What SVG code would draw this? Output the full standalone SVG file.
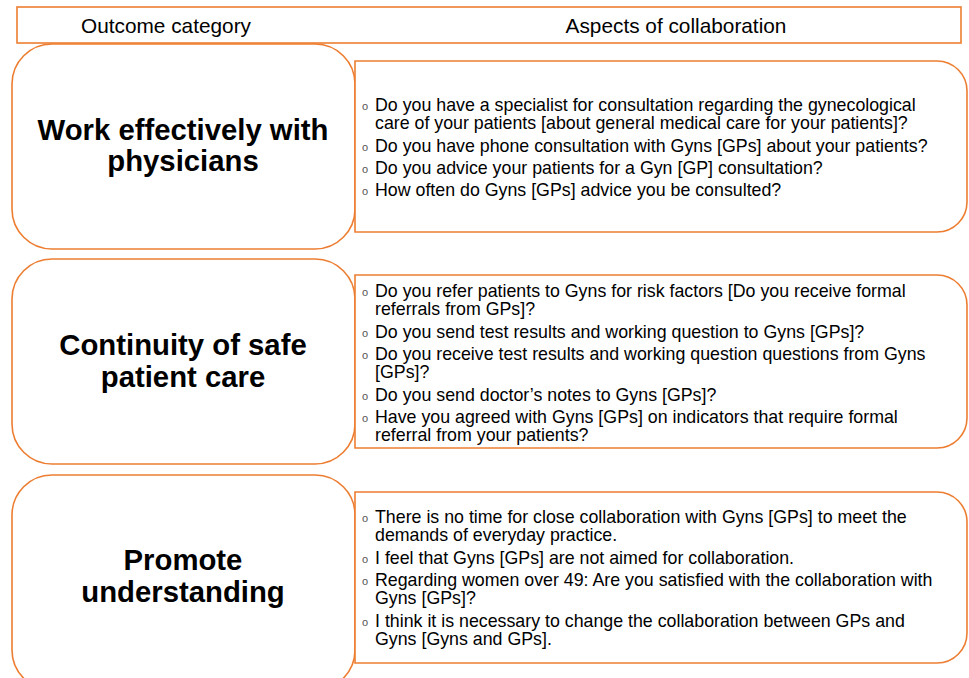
<svg xmlns="http://www.w3.org/2000/svg" width="969" height="678" viewBox="0 0 969 678">
<style>
.box{fill:#fff;stroke:#ED7D31;stroke-width:1.6}
.hdr{font-family:"Liberation Sans",Arial,sans-serif;font-size:20.8px;fill:#000;text-anchor:middle}
.ttl{font-family:"Liberation Sans",Arial,sans-serif;font-size:29.3px;font-weight:bold;fill:#000;text-anchor:middle}
.it{font-family:"Liberation Sans",Arial,sans-serif;font-size:17.8px;fill:#000}
.bl{font-family:"Liberation Sans",Arial,sans-serif;font-size:11px;fill:#555}
</style>
<rect width="969" height="678" fill="#fff"/>
<g id="header">
<rect class="box" x="17" y="7" width="944" height="36"/>
<text class="hdr" x="166" y="33">Outcome category</text>
<text class="hdr" x="676" y="33">Aspects of collaboration</text>
</g>
<g id="cat1">
<rect class="box" x="12" y="44" width="343" height="205" rx="40" ry="40"/>
<text class="ttl" x="183" y="140">Work effectively with</text>
<text class="ttl" x="183" y="171">physicians</text>
</g>
<g id="asp1">
<path class="box" d="M355,61 H937 A30,30 0 0 1 967,91 V202 A30,30 0 0 1 937,232 H355 Z"/>
<text class="bl" x="362" y="110">o</text><text class="it" x="375" y="110.5">Do you have a specialist for consultation regarding the gynecological</text>
<text class="it" x="375" y="129">care of your patients [about general medical care for your patients]?</text>
<text class="bl" x="362" y="151">o</text><text class="it" x="375" y="151.5">Do you have phone consultation with Gyns [GPs] about your patients?</text>
<text class="bl" x="362" y="173">o</text><text class="it" x="375" y="173.5">Do you advice your patients for a Gyn [GP] consultation?</text>
<text class="bl" x="362" y="195">o</text><text class="it" x="375" y="195.5">How often do Gyns [GPs] advice you be consulted?</text>
</g>
<g id="cat2">
<rect class="box" x="12" y="259" width="343" height="205" rx="40" ry="40"/>
<text class="ttl" x="183" y="355">Continuity of safe</text>
<text class="ttl" x="183" y="387">patient care</text>
</g>
<g id="asp2">
<path class="box" d="M355,275 H937 A30,30 0 0 1 967,305 V418 A30,30 0 0 1 937,448 H355 Z"/>
<text class="bl" x="362" y="296">o</text><text class="it" x="375" y="296.5">Do you refer patients to Gyns for risk factors [Do you receive formal</text>
<text class="it" x="375" y="315">referrals from GPs]?</text>
<text class="bl" x="362" y="337">o</text><text class="it" x="375" y="337.5">Do you send test results and working question to Gyns [GPs]?</text>
<text class="bl" x="362" y="359">o</text><text class="it" x="375" y="359.5">Do you receive test results and working question questions from Gyns</text>
<text class="it" x="375" y="378">[GPs]?</text>
<text class="bl" x="362" y="400">o</text><text class="it" x="375" y="400.5">Do you send doctor’s notes to Gyns [GPs]?</text>
<text class="bl" x="362" y="422">o</text><text class="it" x="375" y="422.5">Have you agreed with Gyns [GPs] on indicators that require formal</text>
<text class="it" x="375" y="441">referral from your patients?</text>
</g>
<g id="cat3">
<rect class="box" x="12" y="475" width="343" height="215" rx="40" ry="40"/>
<text class="ttl" x="183" y="570">Promote</text>
<text class="ttl" x="183" y="602">understanding</text>
</g>
<g id="asp3">
<path class="box" d="M355,492 H937 A30,30 0 0 1 967,522 V633 A30,30 0 0 1 937,663 H355 Z"/>
<text class="bl" x="362" y="522">o</text><text class="it" x="375" y="522.5">There is no time for close collaboration with Gyns [GPs] to meet the</text>
<text class="it" x="375" y="541">demands of everyday practice.</text>
<text class="bl" x="362" y="563">o</text><text class="it" x="375" y="563.5">I feel that Gyns [GPs] are not aimed for collaboration.</text>
<text class="bl" x="362" y="585">o</text><text class="it" x="375" y="585.5">Regarding women over 49: Are you satisfied with the collaboration with</text>
<text class="it" x="375" y="604">Gyns [GPs]?</text>
<text class="bl" x="362" y="626">o</text><text class="it" x="375" y="626.5">I think it is necessary to change the collaboration between GPs and</text>
<text class="it" x="375" y="645">Gyns [Gyns and GPs].</text>
</g>
<g id="connectors"></g>
</svg>
